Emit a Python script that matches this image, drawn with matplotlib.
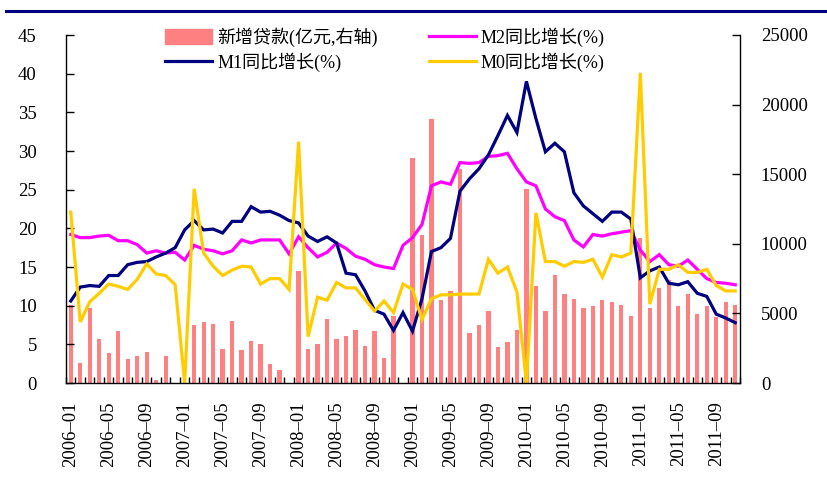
import matplotlib
matplotlib.use("Agg")
import matplotlib.pyplot as plt
from matplotlib.lines import Line2D
import numpy as np

plt.rcParams['font.family'] = ['Liberation Serif', 'Noto Sans CJK SC', 'DejaVu Sans']

years = [2006, 2007, 2008, 2009, 2010, 2011]
months = [f"{y}–{m:02d}" for y in years for m in range(1, 13)][:71]

loans = [5600, 1413, 5364, 3161, 2131, 3735, 1700, 1940, 2227, 190, 1940, 0,
         0, 4167, 4382, 4239, 2443, 4454, 2371, 3017, 2802, 1365, 934, 0,
         8040, 2443, 2802, 4598, 3161, 3376, 3807, 2658, 3735, 1818, 4813, 0,
         16164, 10632, 18966, 5963, 6609, 15374, 3592, 4167, 5197, 2586, 2945, 3807,
         13937, 6968, 5197, 7759, 6394, 6035, 5388, 5532, 5963, 5819, 5604, 4813,
         10417, 5388, 6825, 7400, 5532, 6394, 4957, 5532, 4741, 5819, 5604]

m2 = [19.2, 18.8, 18.8, 19.0, 19.1, 18.4, 18.4, 17.9, 16.8, 17.1, 16.8, 16.9,
      15.9, 17.8, 17.3, 17.1, 16.7, 17.1, 18.5, 18.1, 18.5, 18.5, 18.5, 16.7,
      18.9, 17.5, 16.3, 16.9, 18.1, 17.4, 16.4, 16.0, 15.3, 15.0, 14.8, 17.8,
      18.8, 20.5, 25.5, 26.0, 25.7, 28.5, 28.4, 28.5, 29.3, 29.4, 29.7, 27.7,
      26.0, 25.5, 22.5, 21.5, 21.0, 18.5, 17.6, 19.2, 19.0, 19.3, 19.5, 19.7,
      17.2, 15.7, 16.6, 15.3, 15.1, 15.9, 14.7, 13.5, 13.0, 12.9, 12.7]

m1 = [10.6, 12.4, 12.6, 12.5, 13.9, 13.9, 15.3, 15.6, 15.7, 16.3, 16.8, 17.5,
      19.8, 21.0, 19.8, 19.9, 19.4, 20.9, 20.9, 22.8, 22.1, 22.2, 21.7, 21.0,
      20.7, 19.0, 18.3, 18.9, 18.1, 14.2, 14.0, 11.9, 9.4, 8.9, 6.8, 9.1,
      6.7, 10.9, 17.0, 17.5, 18.7, 24.8, 26.4, 27.7, 29.5, 32.0, 34.6, 32.4,
      39.0, 34.2, 29.9, 31.0, 29.9, 24.6, 22.9, 21.9, 20.9, 22.1, 22.1, 21.2,
      13.6, 14.5, 15.0, 12.9, 12.7, 13.1, 11.6, 11.2, 8.9, 8.4, 7.8]

m0 = [22.1, 7.9, 10.5, 11.6, 12.8, 12.5, 12.1, 13.4, 15.4, 14.1, 13.9, 12.7,
      0.0, 25.1, 16.8, 15.1, 13.9, 14.6, 15.1, 15.0, 12.8, 13.5, 13.5, 12.1,
      31.2, 6.0, 11.1, 10.7, 13.0, 12.3, 12.3, 10.8, 9.3, 10.6, 9.1, 12.8,
      12.1, 8.2, 10.9, 11.4, 11.4, 11.5, 11.5, 11.5, 16.0, 14.2, 15.0, 11.8,
      0.0, 22.0, 15.7, 15.7, 15.1, 15.7, 15.6, 16.0, 13.7, 16.6, 16.3, 16.8,
      40.1, 10.2, 14.7, 14.7, 15.3, 14.3, 14.3, 14.7, 12.6, 11.9, 11.9]

label_bar = "新增贷款(亿元,右轴)"
label_m2 = "M2同比增长(%)"
label_m1 = "M1同比增长(%)"
label_m0 = "M0同比增长(%)"

c_bar = "#FF8080"
c_m2 = "#FF00FF"
c_m1 = "#000080"
c_m0 = "#FFCC00"

W, H = 827, 483
fig = plt.figure(figsize=(W / 100, H / 100), dpi=100)
L, R, T, B = 66, 740, 35, 383
ax = fig.add_axes([L / W, 1 - B / H, (R - L) / W, (B - T) / H])
ax2 = ax.twinx()

x = np.arange(len(months))
ax2.bar(x, loans, width=0.45, color=c_bar, zorder=1)
ax.plot(x, m2, color=c_m2, lw=2.3, solid_joinstyle='miter')
ax.plot(x, m1, color=c_m1, lw=2.3, solid_joinstyle='miter')
ax.plot(x, m0, color=c_m0, lw=2.3, solid_joinstyle='miter')

ax.set_zorder(ax2.get_zorder() + 1)
ax.patch.set_visible(False)

ax.set_xlim(-0.5, len(months) - 0.5)
ax.set_ylim(0, 45)
ax2.set_ylim(0, 25000)
ax.set_yticks(np.arange(0, 46, 5))
ax2.set_yticks(np.arange(0, 25001, 5000))

for a in (ax, ax2):
    a.spines['top'].set_visible(False)
    for s in a.spines.values():
        s.set_linewidth(1.0)
ax.spines['right'].set_visible(False)
ax2.spines['left'].set_visible(False)
ax2.spines['bottom'].set_visible(False)

ax.set_xticks(x[::4])
ax.set_xticklabels([months[i] for i in x[::4]], rotation=90)
ax.set_xticks(np.arange(-0.5, len(months), 1.0), minor=True)
ax.tick_params(axis='x', which='major', length=0, pad=13, labelsize=13.5)
ax.tick_params(axis='x', which='minor', direction='in', length=4, width=1)
ax.tick_params(axis='y', direction='in', length=6, width=1, pad=21, labelsize=13.5)
ax2.tick_params(axis='y', direction='in', length=6, width=1, pad=15, labelsize=13.5)

handles = [
    plt.Rectangle((0, 0), 1, 1, color=c_bar),
    Line2D([], [], color=c_m1, lw=2.3),
    Line2D([], [], color=c_m2, lw=2.3),
    Line2D([], [], color=c_m0, lw=2.3),
]
labels = [label_bar, label_m1, label_m2, label_m0]
fig.legend(handles, labels, loc='upper left', bbox_to_anchor=(158 / W, 1 - 20 / H),
           ncol=2, frameon=False, fontsize=13, handlelength=2.6, handleheight=0.9,
           handletextpad=0.3, columnspacing=2.8, labelspacing=0.3, borderaxespad=0)

fig.add_artist(Line2D([6 / W, 1], [1 - 11 / H, 1 - 11 / H], color=c_m1, lw=2.2))

fig.savefig("out.png", dpi=100)
